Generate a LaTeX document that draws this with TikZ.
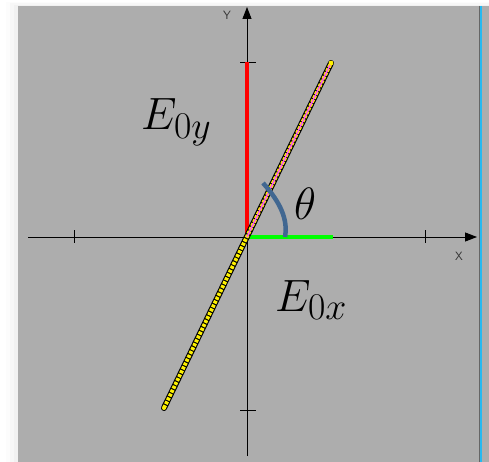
\documentclass[tikz,border=0pt]{standalone}
\usepackage{graphicx}
\usetikzlibrary{arrows.meta}
\newcommand{\biglab}[1]{\scalebox{1.82}{\fontsize{24.88}{30}\selectfont$#1$}}
\definecolor{pinkline}{RGB}{255,90,240}
\definecolor{arcblue}{RGB}{65,103,145}
\begin{document}
\begin{tikzpicture}[x=1pt,y=-1pt,
  axis/.style={black,line width=0.9pt},
  tickmark/.style={black,line width=0.9pt},
  axlabel/.style={font=\sffamily\fontsize{12}{13}\selectfont,text=black!80,inner sep=0pt},
  biglabel/.style={inner sep=0pt,anchor=base west}]
\useasboundingbox (0,0) rectangle (489,462);
\fill[white] (0,0) rectangle (489,462);
% soft shadow
\foreach \i/\o in {6/0.012,10/0.018,14/0.025}{
  \fill[black,opacity=\o] (\i,{\i*0.33}) rectangle (489,462);
}
\fill[black!32] (18,6) rectangle (489,462);
\draw[black!60,line width=0.6pt] (479.2,6) -- (479.2,462);
\draw[cyan!85!white,line width=1.8pt] (481,6) -- (481,462);
% coordinates
\coordinate (O) at (247,237);
\coordinate (Xl) at (28,237);
\coordinate (Xr) at (477,237);
\coordinate (Yb) at (247,456);
\coordinate (Yt) at (247,7);
\coordinate (Etop) at (247,62);
\coordinate (Eright) at (333,237);
\coordinate (Pa) at (164,408);
\coordinate (Pb) at (331,63);
% axes
\draw[axis,-{Triangle[length=12pt,width=9pt]}] (Xl) -- (Xr);
\draw[axis,-{Triangle[length=12pt,width=9pt]}] (Yb) -- (Yt);
\draw[tickmark] (74,230) -- (74,243);
\draw[tickmark] (425,230) -- (425,243);
\draw[tickmark] (240,62) -- (256,62);
\draw[tickmark] (240,410) -- (256,410);
\node[axlabel] (lx) at (459,256) {X};
\node[axlabel] (ly) at (227,15) {Y};
% components
\draw[red,line width=4pt] (O) -- (Etop);
\draw[green,line width=4pt] (O) -- (Eright);
% polarisation line
\draw[black,line width=6pt,line cap=round] (Pa) -- (Pb);
\draw[yellow,line width=3.8pt,dash pattern=on 3pt off 1.3pt] (Pa) -- (Pb);
\draw[pinkline,line width=1.5pt] (O) -- (Pb);
\fill[yellow] (Pa) circle (2pt);
\fill[yellow] (Pb) circle (2.4pt);
% angle
\draw[arcblue,line width=4.5pt] (263,183) .. controls (281,203) and (288,220) .. (285,237);
% labels
\node[biglabel] (ey) at (141,130) {\biglab{E_{0y}}};
\node[biglabel] (ex) at (275,311) {\biglab{E_{0x}}};
\node[biglabel] (th) at (294,219) {\biglab{\theta}};
\end{tikzpicture}
\end{document}
